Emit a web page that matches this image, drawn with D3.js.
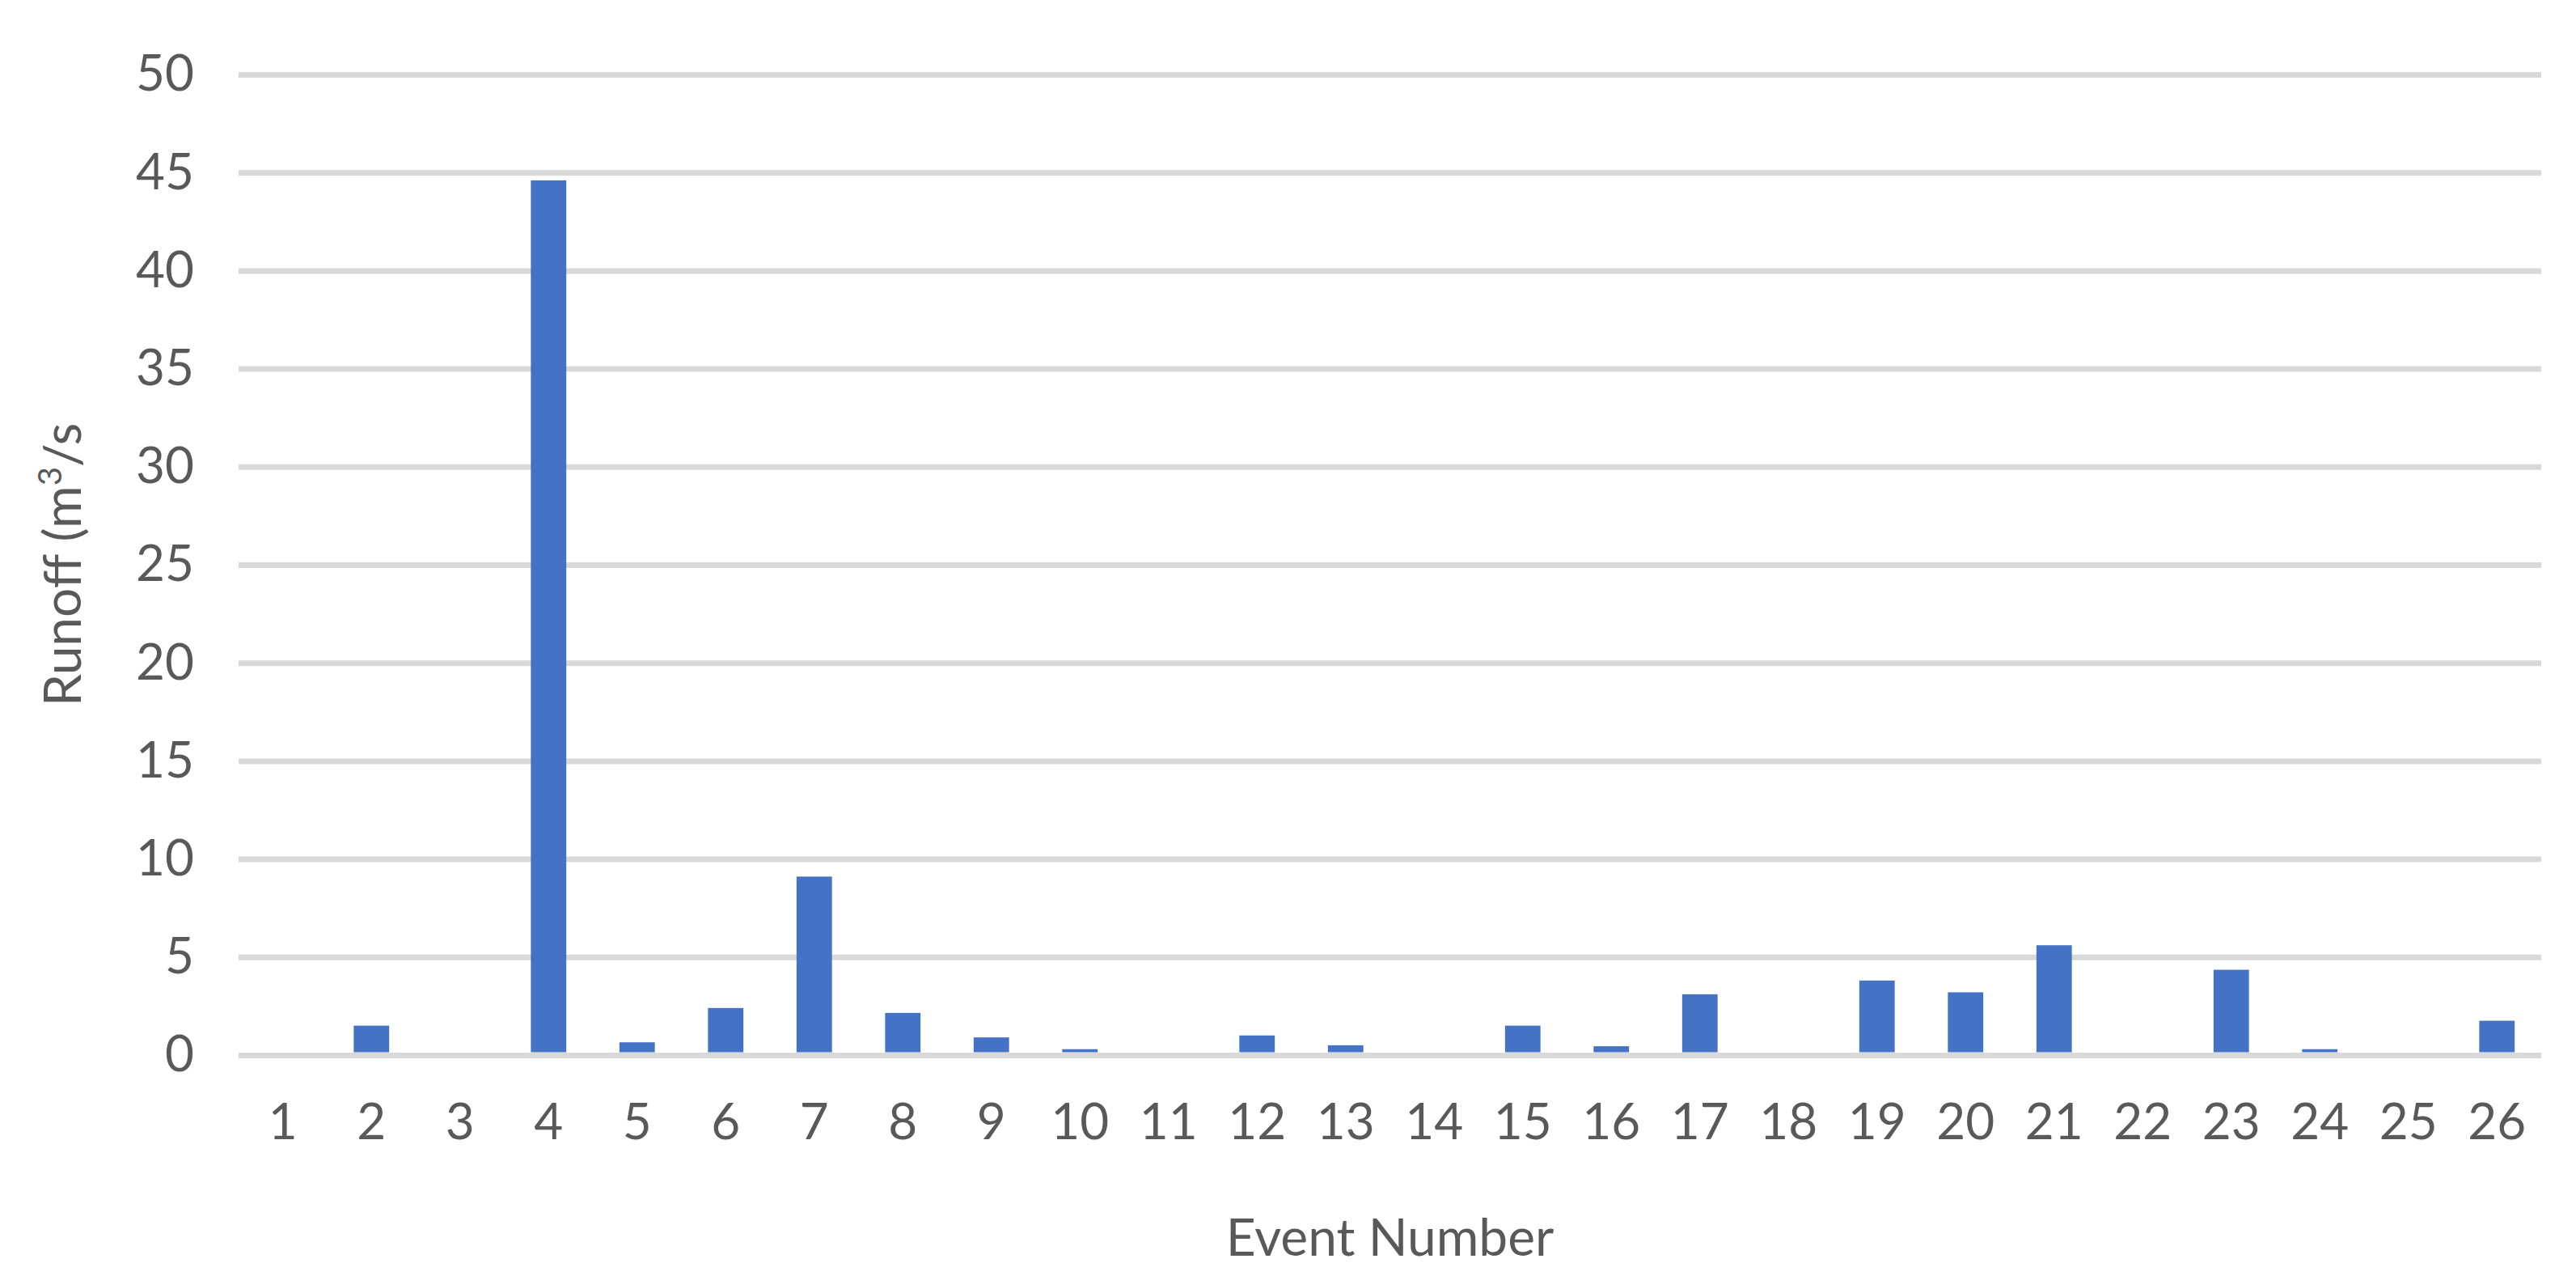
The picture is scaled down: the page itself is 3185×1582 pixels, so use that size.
<!DOCTYPE html>
<html><head><meta charset="utf-8">
<script src="https://cdn.jsdelivr.net/npm/d3@7"></script>
<style>body{margin:0;background:#fff}</style></head>
<body><svg id="c" width="3185" height="1582"></svg>
<script>
const categories = d3.range(1,27).map(String);
const runoff = [0,1.5,0,44.6,0.65,2.4,9.1,2.15,0.9,0.3,0,1.0,0.5,0,1.5,0.45,3.1,0,3.8,3.2,5.6,0,4.35,0.3,0,1.75];
const yTicks = [0,5,10,15,20,25,30,35,40,45,50];

const svg = d3.select("#c");
const L=295,R=3142,T=92,B=1304;
const x = d3.scaleBand().domain(categories).range([L,R]).paddingInner(0.6).paddingOuter(0.3);
const y = d3.scaleLinear().domain([0,50]).range([B,T]);
const font="Lato, 'Open Sans', sans-serif", col="#595959";

const gy = svg.append("g").attr("transform",`translate(${L},0)`)
  .call(d3.axisLeft(y).tickValues(yTicks).tickSize(-(R-L)).tickPadding(55));
gy.select(".domain").remove();
gy.selectAll("line").attr("stroke","#d9d9d9").attr("stroke-width",7);
gy.selectAll("text").attr("font-family",font).attr("font-size",62).attr("fill",col);

svg.append("g").selectAll("rect").data(runoff).join("rect")
  .attr("x",(d,i)=>x(categories[i])).attr("width",x.bandwidth())
  .attr("y",d=>y(d)).attr("height",d=>d>0?Math.max(0,B-3.5-y(d)):0).attr("fill","#4472c4");

const gx = svg.append("g").attr("transform",`translate(0,${B})`)
  .call(d3.axisBottom(x).tickSize(0).tickPadding(60));
gx.select(".domain").remove();
gx.selectAll("text").attr("font-family",font).attr("font-size",62).attr("fill",col);

svg.append("text").attr("x",(L+R)/2).attr("y",1552).attr("text-anchor","middle")
  .attr("font-family",font).attr("font-size",64).attr("fill",col).text("Event Number");
const yl = svg.append("text").attr("transform",`translate(100,${(T+B)/2}) rotate(-90)`)
  .attr("text-anchor","middle").attr("font-family",font).attr("font-size",64).attr("fill",col);
yl.append("tspan").text("Runoff (m");
yl.append("tspan").attr("font-size",40).attr("dy",-24).text("3");
yl.append("tspan").attr("dy",24).text("/s");
</script></body></html>
